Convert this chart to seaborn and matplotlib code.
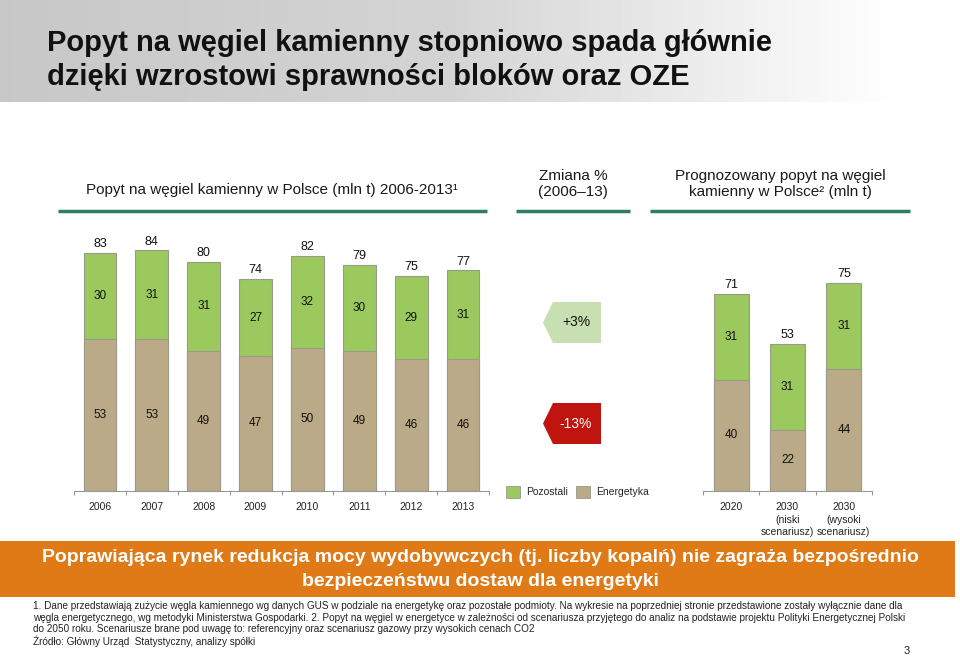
import numpy as np
import pandas as pd
import seaborn as sns
import matplotlib.pyplot as plt
from matplotlib.patches import Polygon, Rectangle, Patch

# --- data ---
years = ['2006', '2007', '2008', '2009', '2010', '2011', '2012', '2013']
energetyka = [53, 53, 49, 47, 50, 49, 46, 46]
pozostali = [30, 31, 31, 27, 32, 30, 29, 31]

forecast_labels = ['2020', '2030\n(niski\nscenariusz)', '2030\n(wysoki\nscenariusz)']
forecast_energetyka = [40, 22, 44]
forecast_pozostali = [31, 31, 31]

change_pozostali = '+3%'
change_energetyka = '-13%'

GREEN = '#9BC95E'
TAN = '#BBAA88'
EDGE = '#9a9a8a'
LINE = '#2E7F62'
ORANGE = '#DF7A16'

W, H = 960, 656
sns.set_theme(style='white')
plt.rcParams['font.family'] = ['Liberation Sans', 'DejaVu Sans']

fig = plt.figure(figsize=(9.6, 6.56), dpi=100)

# overlay in pixel coordinates for the slide decoration
bg = fig.add_axes([0, 0, 1, 1])
bg.set_xlim(0, W)
bg.set_ylim(H, 0)
bg.axis('off')


def px_axes(x0, y0, x1, y1):
    ax = fig.add_axes([x0 / W, 1 - y1 / H, (x1 - x0) / W, (y1 - y0) / H])
    ax.patch.set_alpha(0)
    return ax


# title band with grey->white gradient
xs = np.arange(W)
shade = np.interp(xs, [0, 450, 900, 960], [0.78, 0.83, 1.0, 1.0])
bg.imshow(np.tile(shade, (2, 1)), extent=[0, W, 102, 0], cmap='gray',
          vmin=0, vmax=1, aspect='auto', zorder=0)
bg.set_xlim(0, W)
bg.set_ylim(H, 0)
bg.text(47, 43, 'Popyt na węgiel kamienny stopniowo spada głównie',
        fontsize=21, fontweight='bold', va='center', color='#111111')
bg.text(47, 77, 'dzięki wzrostowi sprawności bloków oraz OZE',
        fontsize=21, fontweight='bold', va='center', color='#111111')

# section headers
bg.text(272, 190, 'Popyt na węgiel kamienny w Polsce (mln t) 2006-2013¹',
        fontsize=11, ha='center', va='center', color='#1a1a1a')
bg.text(573, 184, 'Zmiana %\n(2006–13)', fontsize=11, ha='center',
        va='center', linespacing=1.1, color='#1a1a1a')
bg.text(780, 184, 'Prognozowany popyt na węgiel\nkamienny w Polsce² (mln t)',
        fontsize=11, ha='center', va='center', linespacing=1.1, color='#1a1a1a')
for x0, x1 in [(58, 487), (516, 630), (650, 910)]:
    bg.plot([x0, x1], [211, 211], color=LINE, lw=2.5, solid_capstyle='butt')


def stacked(ax, labels, low, high, width, ymax):
    df = pd.DataFrame({'label': labels, 'Energetyka': low, 'Pozostali': high})
    df['total'] = df['Energetyka'] + df['Pozostali']
    sns.barplot(data=df, x='label', y='total', color=GREEN, width=width,
                saturation=1, edgecolor=EDGE, linewidth=0.8, ax=ax)
    sns.barplot(data=df, x='label', y='Energetyka', color=TAN, width=width,
                saturation=1, edgecolor=EDGE, linewidth=0.8, ax=ax)
    for i, row in df.iterrows():
        ax.text(i, row['total'] + 1.0, f"{row['total']}", ha='center',
                va='bottom', fontsize=9, color='#111111')
        ax.text(i, row['Energetyka'] + row['Pozostali'] / 2, f"{row['Pozostali']}",
                ha='center', va='center', fontsize=8.5, color='#111111')
        ax.text(i, row['Energetyka'] / 2, f"{row['Energetyka']}",
                ha='center', va='center', fontsize=8.5, color='#111111')
    n = len(labels)
    ax.set_xlim(-0.5, n - 0.5)
    ax.set_ylim(0, ymax)
    ax.set_xlabel('')
    ax.set_ylabel('')
    ax.set_yticks([])
    sns.despine(ax=ax, left=True)
    ax.spines['bottom'].set_color('#999999')
    ax.spines['bottom'].set_linewidth(0.8)
    ax.set_xticks(np.arange(-0.5, n), minor=True)
    ax.tick_params(axis='x', which='major', length=0, pad=8, labelsize=7.5,
                   labelcolor='#222222')
    ax.tick_params(axis='x', which='minor', length=3, width=0.8,
                   color='#999999', direction='out', bottom=True)
    for t in ax.get_xticklabels():
        t.set_linespacing(1.35)


ax1 = px_axes(74, 225, 489, 490.7)
stacked(ax1, years, energetyka, pozostali, 0.63, (490.7 - 225) / 2.86)

ax2 = px_axes(703, 225, 872, 490.7)
stacked(ax2, forecast_labels, forecast_energetyka, forecast_pozostali, 0.62,
        (490.7 - 225) / 2.77)

# change arrows
for (y0, y1), txt, fc, tc in [((302, 343), change_pozostali, '#C8DFB2', '#111111'),
                              ((403, 444), change_energetyka, '#C0140E', 'white')]:
    bg.add_patch(Polygon([(553, y0), (601, y0), (601, y1), (553, y1),
                          (543, (y0 + y1) / 2)], closed=True, fc=fc, ec='none'))
    bg.text(576, (y0 + y1) / 2, txt, ha='center', va='center', fontsize=10, color=tc)

# legend
fig.legend(handles=[Patch(fc=GREEN, ec=EDGE, lw=0.6), Patch(fc=TAN, ec=EDGE, lw=0.6)],
           labels=['Pozostali', 'Energetyka'], ncol=2, frameon=False,
           loc='center left', bbox_to_anchor=(502 / W, 1 - 492 / H),
           fontsize=7.5, handlelength=1.35, handleheight=1.35,
           handletextpad=0.6, columnspacing=0.7, borderaxespad=0)

# orange banner
bg.add_patch(Rectangle((0, 541), 955, 56, fc=ORANGE, ec='none'))
bg.text(480, 557, 'Poprawiająca rynek redukcja mocy wydobywczych (tj. liczby kopalń) nie zagraża bezpośrednio',
        ha='center', va='center', fontsize=14, fontweight='bold', color='white')
bg.text(480, 581, 'bezpieczeństwu dostaw dla energetyki',
        ha='center', va='center', fontsize=14, fontweight='bold', color='white')

# footnotes
notes = [
    '1. Dane przedstawiają zużycie węgla kamiennego wg danych GUS w podziale na energetykę oraz pozostałe podmioty. Na wykresie na poprzedniej stronie przedstawione zostały wyłącznie dane dla',
    'węgla energetycznego, wg metodyki Ministerstwa Gospodarki. 2. Popyt na węgiel w energetyce w zależności od scenariusza przyjętego do analiz na podstawie projektu Polityki Energetycznej Polski',
    'do 2050 roku. Scenariusze brane pod uwagę to: referencyjny oraz scenariusz gazowy przy wysokich cenach CO2',
    'Źródło: Główny Urząd  Statystyczny, analizy spółki',
]
for k, line in enumerate(notes):
    bg.text(33, 606 + k * 11.7, line, fontsize=7.2, va='center', color='#222222')
bg.text(907, 651, '3', fontsize=8, ha='center', va='center', color='#222222')

fig.savefig('out.png', dpi=100)
